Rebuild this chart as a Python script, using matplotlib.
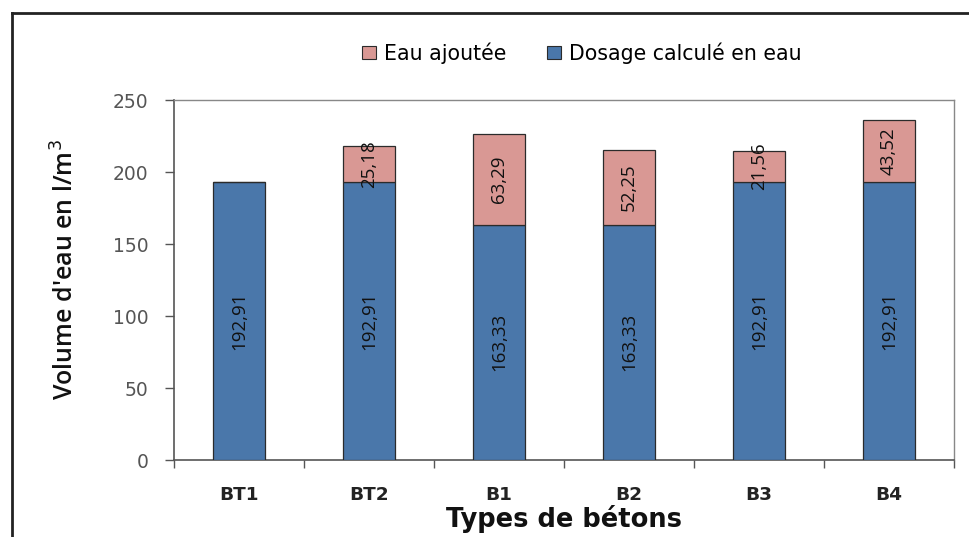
import matplotlib
matplotlib.use("Agg")
import matplotlib.pyplot as plt
from matplotlib.lines import Line2D
from matplotlib.patches import Patch
import numpy as np

categories = ["BT1", "BT2", "B1", "B2", "B3", "B4"]
dosage = [192.91, 192.91, 163.33, 163.33, 192.91, 192.91]
ajoutee = [0, 25.18, 63.29, 52.25, 21.56, 43.52]
dosage_labels = ["192,91", "192,91", "163,33", "163,33", "192,91", "192,91"]
ajoutee_labels = ["", "25,18", "63,29", "52,25", "21,56", "43,52"]
yticks = [0, 50, 100, 150, 200, 250]

W, H = 970, 537
fig = plt.figure(figsize=(W / 100, H / 100), dpi=100)
fig.patch.set_facecolor("white")

x0, x1, y_top, y_bot = 174, 954, 100, 460
ax = fig.add_axes([x0 / W, 1 - y_bot / H, (x1 - x0) / W, (y_bot - y_top) / H])

blue = "#4A77AA"
pink = "#D99894"
edge = "#2B2B2B"
x = np.arange(len(categories))
width = 0.4

ax.bar(x, dosage, width, color=blue, edgecolor=edge, linewidth=0.9, zorder=3)
ax.bar(x, ajoutee, width, bottom=dosage, color=pink, edgecolor=edge, linewidth=0.9, zorder=3)

label_font = dict(family="Open Sans", fontsize=13.5, color="#111111")
for i in range(len(categories)):
    ax.text(x[i], dosage[i] / 2, dosage_labels[i], rotation=90, ha="center", va="center", zorder=4, **label_font)
    if ajoutee[i] > 0:
        ax.text(x[i], dosage[i] + ajoutee[i] / 2, ajoutee_labels[i], rotation=90, ha="center", va="center", zorder=4, **label_font)

ax.set_xlim(-0.5, len(categories) - 0.5)
ax.set_ylim(0, 250)
ax.set_yticks(yticks)
ax.set_yticklabels([str(t) for t in yticks], family="DejaVu Sans", fontsize=13.5, color="#555555")
ax.tick_params(axis="y", direction="out", length=6.5, width=1, color="#555555", pad=12)

ax.set_xticks(x)
ax.set_xticklabels(categories, family="DejaVu Sans", fontweight="bold", fontsize=13.3, color="#222222")
ax.set_xticks(np.arange(-0.5, len(categories), 1), minor=True)
ax.tick_params(axis="x", which="major", length=0, pad=19)
ax.tick_params(axis="x", which="minor", direction="out", length=6, width=1, color="#555555")

for s in ["left", "bottom"]:
    ax.spines[s].set_color("#555555")
    ax.spines[s].set_linewidth(1.2)
for s in ["top", "right"]:
    ax.spines[s].set_color("#888888")
    ax.spines[s].set_linewidth(1.0)

ax.set_ylabel("Volume d'eau en l/m$^3$", family="Open Sans", fontweight="semibold", fontsize=18, color="#111111")
ax.yaxis.set_label_coords(-(174 - 66) / (x1 - x0), 0.5 + 10 / (y_bot - y_top))
ax.yaxis.label.set_va("center")
ax.set_xlabel("Types de bétons", family="DejaVu Sans", fontweight="bold", fontsize=18.5, color="#111111")
ax.xaxis.set_label_coords(0.5, -(505 - y_bot) / (y_bot - y_top))

handles = [Patch(facecolor=pink, edgecolor=edge, linewidth=0.8, label="Eau ajoutée"),
           Patch(facecolor=blue, edgecolor=edge, linewidth=0.8, label="Dosage calculé en eau")]
fig.legend(handles=handles, loc="center", bbox_to_anchor=(582 / W, 1 - 53 / H), ncol=2, frameon=False,
           prop=dict(family="DejaVu Sans", size=14.8), handlelength=0.65, handleheight=0.65,
           handletextpad=0.4, columnspacing=2.0, borderpad=0, borderaxespad=0)

fig.add_artist(Line2D([12 / W, 1.0], [1 - 13 / H, 1 - 13 / H], transform=fig.transFigure, color="#222222", linewidth=2))
fig.add_artist(Line2D([12 / W, 12 / W], [0, 1 - 13 / H], transform=fig.transFigure, color="#222222", linewidth=2))

fig.savefig("out.png", dpi=100, facecolor="white")
